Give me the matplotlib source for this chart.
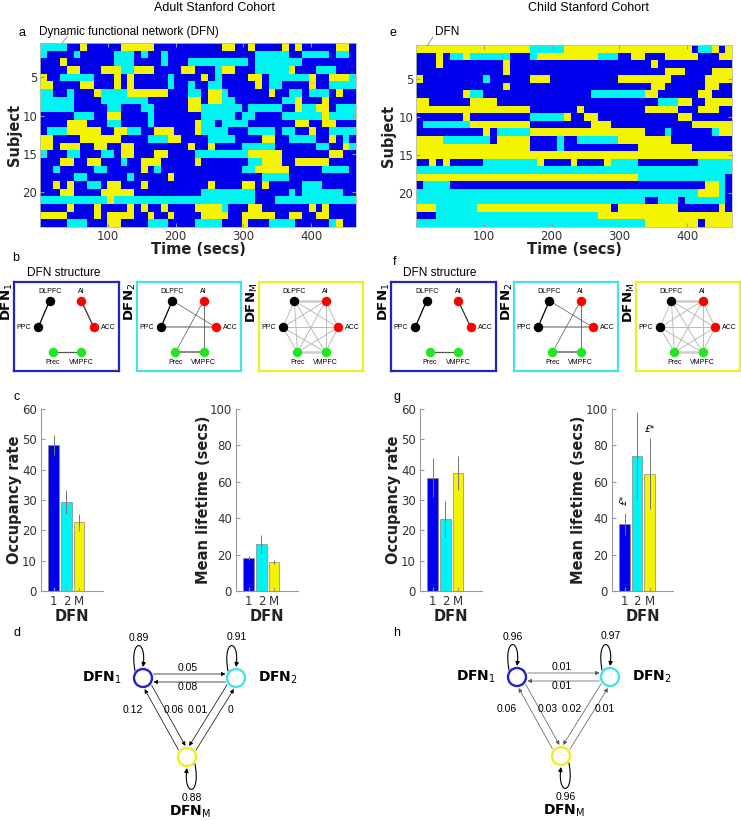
import numpy as np
import matplotlib
matplotlib.use('Agg')
import matplotlib.pyplot as plt
from matplotlib.colors import ListedColormap
from matplotlib.patches import Circle, FancyArrowPatch
from matplotlib.path import Path

W, H = 741, 821

# ---------------- data ----------------
# DFN state per subject, one character per ~10 s bin: B = DFN 1, C = DFN 2, Y = DFN M
adult_rows = [
    "CCCCBBYBBBBBYYYYYBBBBBBBBBBYYBBYBBBBYBYBBBBBYYB",
    "CBBBBCBBBBBCCCBCBBCBBBBBBBBBBBBBCCCCCBBCCCCBCCB",
    "BBBYBBBBBBBCCCBBBBCBBBCCCCCCCCCBCCCCCCCBBBBBBBB",
    "BBBBYYBBBYYYCCYYYBBBBYYBBBCYYBBBCCCCCYBBBCCCBBB",
    "YBBCCCCCBBBYBYBBBBBCBBBBYBCBBBBYYBCCCCCCYBBYYYC",
    "YYBBBBYYBBBYBYBBBBBCBBCBBCCBBBBBYBCCBBBBYBBCCCC",
    "CCBBCBBBYCCCCYYYYYYBBBCCBYYCBBBBBBYBBCCBCCCBYBB",
    "CCCCCBBBBCCCCCCCBBBBBBYYBYYCCBBBBBBBCCYBBBYBBBB",
    "CCCCCBBBBBCCBBBCCBBBBBYYCCCCCCBCCCCCBBYCCYYBCCC",
    "BBBBBCCCBBYYBBBBCBBBBBBBCCCCCBCCBBBBCCCCCCYCCCC",
    "BBBBYYYBBBCCBBBBCBBBBBBYCCBCCCCBBBBBBBYYBBYYBBB",
    "BCCCYYYYYBBYYCCBBYYYBBBYCCCCBBBCCCCBCCBBYBBCCCC",
    "YYBBBBYYYYYYBBBBCCCYYBBBBCCCCBBBBYYBBCCCCBBYBCB",
    "YYBYYYBBYYBBYYBBBBBBBBYBBYBBBBCCCCCBBBBBBCCBBYC",
    "CBBBCCBBBCCBYYBBBYYBBBBCCCCCCCCYYYYYBBBBBBBYYBB",
    "BBBYYBBYYBBBCBBYYYBBBBBYBBBBBBBCCYYYBBYYYYYBBBB",
    "BBCBBBBBCCBBBBBYBCBBBBBBBBBBBBCCYYYYYBBBBBCCCCB",
    "BBBBBCCBBBBBBCBBBBBYBBBBBBBBBBBBBCCCCBBBBBBBBBB",
    "BBYBYBBCCBYYBBBYBBBBBBBBBYBBBBYYBYBBBBBCCCBBBBB",
    "BBBYYBBBBYYYYYBBBBBBBBBBCCCCCCCCBBBBBCBCCCCCCBB",
    "CCCCCCCCCCYCCCCCCCCCCCCCCCCCCCCCBBBCCCCCCCCCCCC",
    "BBBBYBBBYBBBBYBYBBYBBBBYYYYCBBBYYBBBBBBBYBYBBBB",
    "YYYYBBBBYBYYYYBBYBBYBBBBYYYYBBYYYYYBBYYBBYYBBBB",
    "BBBBCCCBBBYYBBBBCCCBBBBCCCCBBBYBBBCCCCBBBBBCYBB",
]
child_rows = [
    "YYYYYYYYYYYYYYYYY" "CCCCC" "YYYYYYYYYYYYYYYYYYY" "B" "CC" "Y" "B" "Y",
    "BBBYBCCY" "CCCCCC" "BBB" "C" "YYYYYYYYY" "CCC" "BB" "YY" "BBB" "YYYYY" "BBB" "YY",
    "BBBY" "BBBBBBBBB" "Y" "BBBBBBBBBBBBBBBBBBBBB" "Y" "BBBBBBBBBBB",
    "BBBBBBBBBBBBB" "Y" "BBBBBBBBBBBBBBBBBBBBBBB" "YYY" "BBBB" "YYY",
    "Y" "BBBBBBBBB" "C" "BBBBBB" "YYY" "BBBBBBBBBB" "YYYYYYYY" "BBBBB" "YYYY",
    "BBBBBBBBBBBBB" "Y" "BBBBBBBBBBBBBBBBBBBBB" "YY" "BBBBBB" "YY" "BB",
    "BBBBBBB" "Y" "CC" "BBBBBBBBBBBBBBBB" "CCCCCCCC" "YY" "BBBBBB" "YY" "BBB",
    "YY" "BBBBBB" "YYYY" "BBBBBBBBBBBBBBBBBBBBBBBB" "CCC" "YY" "BB" "YYYY",
    "YYYYYYYYYYYYYYYYY" "BBBBBBB" "Y" "BBBBBBBBB" "YYYYY" "BBB" "YYY" "BB",
    "BBBBBBB" "Y" "BBBBBBBBB" "CCCCC" "Y" "BB" "YY" "BBBBBBBBBBBB" "YY" "BBBBBB",
    "B" "CCCCCCC" "YYYYYYYYY" "BBBBBBBBB" "YYY" "BBBBBBBBBBBB" "YYYYYY",
    "BBBBBBBBBB" "Y" "B" "CCCCC" "YYYYYYYYYYYYYYYYY" "BBB" "C" "BBBBBB" "C" "YY",
    "YYYY" "CCCCCCC" "B" "YYYYY" "BBBB" "C" "BB" "CCCCCC" "YYYYYYYY" "BBBBBBBBB",
    "YYYYYYYYYYYYYYYYY" "BBBB" "C" "BBBBBBBBBBB" "YYYYYYYY" "BBBBBB",
    "YYYYYYYYYY" "YYYYYYYYYY" "YYYYYYYYYY" "YYYYYYYYYY" "YYYYYYY",
    "BB" "Y" "B" "Y" "BBBBB" "CCCCCCCC" "Y" "BBBB" "Y" "BBBB" "Y" "CCCC" "BBBBBBBBB" "CCCCC",
    "CCCCCCCCCC" "CCCCCCCCCC" "CCCCCCCCCC" "CCCCCCCCCC" "CCCCCCC",
    "YYYYYYYYYY" "YYYYYYYYYY" "YYYYYYYYYY" "YYY" "CCCCCCCCCCCCC" "B",
    "BCCCC" "BBBBBBBBBB" "BBBBBBBBBB" "BBBBBBBBBB" "BBBBBBBB" "YYCB",
    "CCCCCCCCCC" "CCCCCCCCCC" "CCCCCCCCCC" "CCCCCCCCCC" "CC" "YYY" "C" "B",
    "CCCCCCCCCC" "CCCCCCCCCC" "CCCCCCCCCC" "CCCC" "BB" "CCC" "B" "CCCCCC" "B",
    "YYY" "CCCCCC" "YYYYYYYYYYYYYYYYYYYY" "B" "YYYYYYYYY" "BBBBBB" "Y" "B",
    "BBB" "CCCCCCCCCCCCCCCCCCCCCCCC" "YYYYYYYYYYYYYYYYYYYY",
    "CCCCCCCCCC" "CCCCCCCCCC" "CCCCCCCCCC" "CCCC" "YYYYYYYY" "B" "YYYY",
]
scan_secs = 466

dfn_names = ['1', '2', 'M']
adult_occ = [48.0, 29.4, 22.7]
adult_occ_err = [3.3, 4.0, 2.8]
adult_life = [18.3, 25.8, 16.1]
adult_life_err = [1.2, 5.0, 1.1]
child_occ = [37.4, 23.7, 38.9]
child_occ_err = [6.4, 6.0, 5.7]
child_life = [36.7, 74.4, 64.4]
child_life_err = [6.1, 24.0, 19.5]

# transition probabilities, row = from, col = to (1, 2, M)
adult_trans = [[0.89, 0.05, 0.06],
               [0.08, 0.91, 0.01],
               [0.12, 0.00, 0.88]]
child_trans = [[0.96, 0.01, 0.03],
               [0.01, 0.97, 0.02],
               [0.06, 0.01, 0.96]]

regions = ['DLPFC', 'AI', 'PPC', 'ACC', 'Prec', 'VMPFC']
# edges of each DFN structure: (a, b, colour, width)
dfn1_edges = [('DLPFC', 'PPC', 'k', 0.9), ('AI', 'ACC', '#333333', 0.9),
              ('Prec', 'VMPFC', '#555555', 0.9)]
dfn2_edges = [('DLPFC', 'PPC', 'k', 0.9), ('DLPFC', 'ACC', '#555555', 0.5),
              ('PPC', 'ACC', '#aaaaaa', 1.4), ('AI', 'Prec', '#555555', 0.5),
              ('AI', 'VMPFC', '#555555', 0.6), ('Prec', 'VMPFC', '#888888', 1.4)]
dfnm_edges = [(a, b, '#bbbbbb', 0.7) for i, a in enumerate(regions) for b in regions[i + 1:]]
dfnm_edges += [('DLPFC', 'AI', '#cccccc', 1.8), ('Prec', 'VMPFC', '#cccccc', 1.8)]

# ---------------- style / layout ----------------
plt.rcParams['font.family'] = 'DejaVu Sans'
plt.rcParams['mathtext.fontset'] = 'dejavusans'

blue, cyan, yellow = '#0000ee', '#00f4f4', '#f4f400'
dfn_colors = [blue, cyan, yellow]
frame_colors = ['#2222c8', '#44e4e4', '#eeee22']
region_colors = {'DLPFC': 'k', 'PPC': 'k', 'AI': '#ff0000', 'ACC': '#ff0000',
                 'Prec': '#22e622', 'VMPFC': '#22e622'}
region_pos = {'DLPFC': (0.34, 0.21), 'AI': (0.64, 0.21), 'PPC': (0.23, 0.51),
              'ACC': (0.76, 0.51), 'Prec': (0.37, 0.79), 'VMPFC': (0.64, 0.79)}
label_off = {'DLPFC': ((0, 4), 'center', 'bottom'), 'AI': ((0, 4), 'center', 'bottom'),
             'PPC': ((-5, 0), 'right', 'center'), 'ACC': ((5, 0), 'left', 'center'),
             'Prec': ((0, -4.5), 'center', 'top'), 'VMPFC': ((0, -4.5), 'center', 'top')}

fig = plt.figure(figsize=(W / 100, H / 100), dpi=100)


def px_axes(x0, y0, x1, y1):
    return fig.add_axes([x0 / W, 1 - y1 / H, (x1 - x0) / W, (y1 - y0) / H])


def dfn_label(ax, x, y, name, size=10, **kw):
    ax.text(x, y, r'$\mathbf{DFN}_{\mathrm{%s}}$' % name, fontsize=size, **kw)


code = {'B': 0, 'C': 1, 'Y': 2}
cmap = ListedColormap(dfn_colors)


def heatmap(rect, rows, ylab_x):
    ax = px_axes(*rect)
    n = max(len(r) for r in rows)
    grid = np.array([[code[c] for c in (r + r[-1] * n)[:n]] for r in rows])
    ax.imshow(grid, cmap=cmap, vmin=-0.5, vmax=2.5, aspect='auto',
              interpolation='nearest', extent=(0, scan_secs, len(rows) + 0.5, 0.5))
    ax.set_yticks([5, 10, 15, 20])
    ax.set_xticks([100, 200, 300, 400])
    ax.tick_params(direction='in', length=3, top=True, right=True, labelsize=8.5,
                   labelcolor='#333333', color='#999999', pad=2)
    for s in ax.spines.values():
        s.set_color('#bbbbaa')
        s.set_linewidth(0.6)
    ax.set_ylabel('Subject', fontsize=10.5, fontweight='bold', color='#222222')
    ax.yaxis.set_label_coords(ylab_x, 0.5)
    ax.set_xlabel('Time (secs)', fontsize=10.5, fontweight='bold', color='#222222')
    ax.xaxis.set_label_coords(0.5, -0.08)


heatmap((40, 43, 356, 227), adult_rows, -0.058)
heatmap((416, 45, 732, 227), child_rows, -0.062)


def structure(rect, edges, k):
    ax = px_axes(*rect)
    ax.set_xlim(0, 1)
    ax.set_ylim(1, 0)
    ax.set_xticks([])
    ax.set_yticks([])
    for s in ax.spines.values():
        s.set_color(frame_colors[k])
        s.set_linewidth(1.6)
    for a, b, c, lw in edges:
        (xa, ya), (xb, yb) = region_pos[a], region_pos[b]
        ax.plot([xa, xb], [ya, yb], color=c, lw=lw, zorder=1)
    for r in regions:
        x, y = region_pos[r]
        ax.plot(x, y, 'o', ms=6.8, color=region_colors[r], mec='none', zorder=3)
        off, ha, va = label_off[r]
        ax.annotate(r, (x, y), xytext=off, textcoords='offset points', ha=ha, va=va,
                    fontsize=5, family='Liberation Sans')


box_x = [(14, 119), (137, 241), (259, 363)]
for shift in (0, 377):
    for k, edges in enumerate([dfn1_edges, dfn2_edges, dfnm_edges]):
        x0, x1 = box_x[k]
        structure((x0 + shift, 282, x1 + shift, 371), edges, k)


def bar_panel(rect, vals, errs, ymax, yticks, ylabel, ylab_x):
    ax = px_axes(*rect)
    x = np.arange(1, 4)
    ax.bar(x, vals, width=0.82, color=dfn_colors, edgecolor='#888888', linewidth=0.5)
    ax.errorbar(x, vals, yerr=errs, fmt='none', ecolor='#777777', elinewidth=0.7,
                capsize=0, zorder=3)
    ax.set_xlim(0, 4.88)
    ax.set_ylim(0, ymax)
    ax.set_yticks(yticks)
    ax.set_xticks(x)
    ax.set_xticklabels(dfn_names)
    ax.tick_params(direction='in', length=3, labelsize=8.5, labelcolor='#333333',
                   color='#999999', pad=3)
    for s in ['top', 'right']:
        ax.spines[s].set_visible(False)
    for s in ['left', 'bottom']:
        ax.spines[s].set_color('#999999')
        ax.spines[s].set_linewidth(0.8)
    ax.set_ylabel(ylabel, fontsize=10.5, fontweight='bold', color='#222222')
    ax.yaxis.set_label_coords(ylab_x, 0.5)
    ax.set_xlabel('DFN', fontsize=10.5, fontweight='bold', color='#222222')
    ax.xaxis.set_label_coords(0.5, -0.10)
    return ax


bar_panel((41, 409, 103, 591), adult_occ, adult_occ_err, 60, range(0, 61, 10),
          'Occupancy rate', -0.30)
bar_panel((236, 409, 298, 591), adult_life, adult_life_err, 100, range(0, 101, 20),
          'Mean lifetime (secs)', -0.41)
bar_panel((420, 409, 482, 591), child_occ, child_occ_err, 60, range(0, 61, 10),
          'Occupancy rate', -0.31)
axg = bar_panel((612, 409, 673, 591), child_life, child_life_err, 100, range(0, 101, 20),
                'Mean lifetime (secs)', -0.43)
axg.text(3.05, 89, '\u00a3*', fontsize=6.5, style='italic', ha='center', va='center')
axg.text(0.95, 50, '\u00a3*', fontsize=6.5, style='italic', ha='center', va='center',
         rotation=90)

# ---------------- overlay in pixel coordinates ----------------
ov = fig.add_axes([0, 0, 1, 1])
ov.set_xlim(0, W)
ov.set_ylim(H, 0)
ov.axis('off')

ov.text(215, 8, 'Adult Stanford Cohort', fontsize=9, ha='center', va='center',
        family='Liberation Sans')
ov.text(588, 8, 'Child Stanford Cohort', fontsize=9, ha='center', va='center',
        family='Liberation Sans')
for lt, x, y in [('a', 22, 33), ('b', 16, 258), ('c', 17, 397), ('d', 17, 633),
                 ('e', 393, 33), ('f', 395, 262), ('g', 397, 397), ('h', 397, 633)]:
    ov.text(x, y, lt, fontsize=9, ha='center', va='center', family='Liberation Sans')
ov.text(39, 32, 'Dynamic functional network (DFN)', fontsize=8.5, va='center',
        family='Liberation Sans')
ov.text(435, 32, 'DFN', fontsize=8.5, va='center', family='Liberation Sans')
ov.plot([62, 67], [43, 37], color='#888888', lw=0.6)
ov.plot([427, 433], [46, 37], color='#888888', lw=0.6)
ov.text(27, 273, 'DFN structure', fontsize=8.5, va='center', family='Liberation Sans')
ov.text(403, 273, 'DFN structure', fontsize=8.5, va='center', family='Liberation Sans')
for shift in (0, 377):
    for k, (x0, x1) in enumerate(box_x):
        dfn_label(ov, x0 + shift - 7, 283, dfn_names[k], size=9.5, rotation=90,
                  ha='center', va='top')

# transition diagrams
trans_nodes = np.array([[0.0, 0.0], [93.0, 0.0], [44.0, 79.0]])
node_r = 9
# directed edge: (from, to, side, label offset from node 1)
trans_edges = [(0, 1, 1, (45, -10)), (1, 0, -1, (45, 9)),
               (0, 2, 1, (31, 32)), (2, 0, -1, (-10, 32)),
               (1, 2, -1, (55, 32)), (2, 1, 1, (88, 32))]
self_lab = [(-4, -40), (1, -41), (5, 41)]
loop_up = np.array([[-8, -7], [-14, -40], [4, -40], [0, -11]])


def transition(origin, P, line_color):
    pos = trans_nodes + np.array(origin)
    for k in range(3):
        ov.add_patch(Circle(pos[k], node_r, facecolor='white', edgecolor=frame_colors[k],
                            lw=1.7, zorder=4))
    for i, j, side, lab in trans_edges:
        a, b = pos[min(i, j)], pos[max(i, j)]
        d = (b - a) / np.hypot(*(b - a))
        n = np.array([d[1], -d[0]])
        u = (pos[j] - pos[i]) / np.hypot(*(pos[j] - pos[i]))
        p0 = pos[i] + side * 4 * n + u * (node_r + 1.5)
        p1 = pos[j] + side * 4 * n - u * (node_r + 1.5)
        ov.add_patch(FancyArrowPatch(p0, p1, arrowstyle='-|>', mutation_scale=6,
                                     lw=0.5, color=line_color, shrinkA=0, shrinkB=0))
        p = P[i][j]
        ov.text(pos[0][0] + lab[0], pos[0][1] + lab[1], f'{p:.2f}' if p else '0',
                fontsize=7.5, ha='center', va='center', family='Liberation Sans')
    for k in range(3):
        pts = loop_up if k < 2 else -loop_up
        path = Path(pts + pos[k], [Path.MOVETO, Path.CURVE4, Path.CURVE4, Path.CURVE4])
        ov.add_patch(FancyArrowPatch(path=path, arrowstyle='-|>', mutation_scale=6,
                                     lw=0.8, color='k'))
        ov.text(pos[k][0] + self_lab[k][0], pos[k][1] + self_lab[k][1],
                f'{P[k][k]:.2f}', fontsize=7.5, ha='center', va='center',
                family='Liberation Sans')
    dfn_label(ov, pos[0][0] - 21, pos[0][1] + 4, '1', ha='right', va='baseline')
    dfn_label(ov, pos[1][0] + 22, pos[1][1] + 4, '2', ha='left', va='baseline')
    dfn_label(ov, pos[2][0] + 3, pos[2][1] + 59, 'M', ha='center', va='baseline')


transition((143, 678), adult_trans, 'k')
transition((517, 677), child_trans, '#555555')

fig.savefig('out.png', dpi=100)
